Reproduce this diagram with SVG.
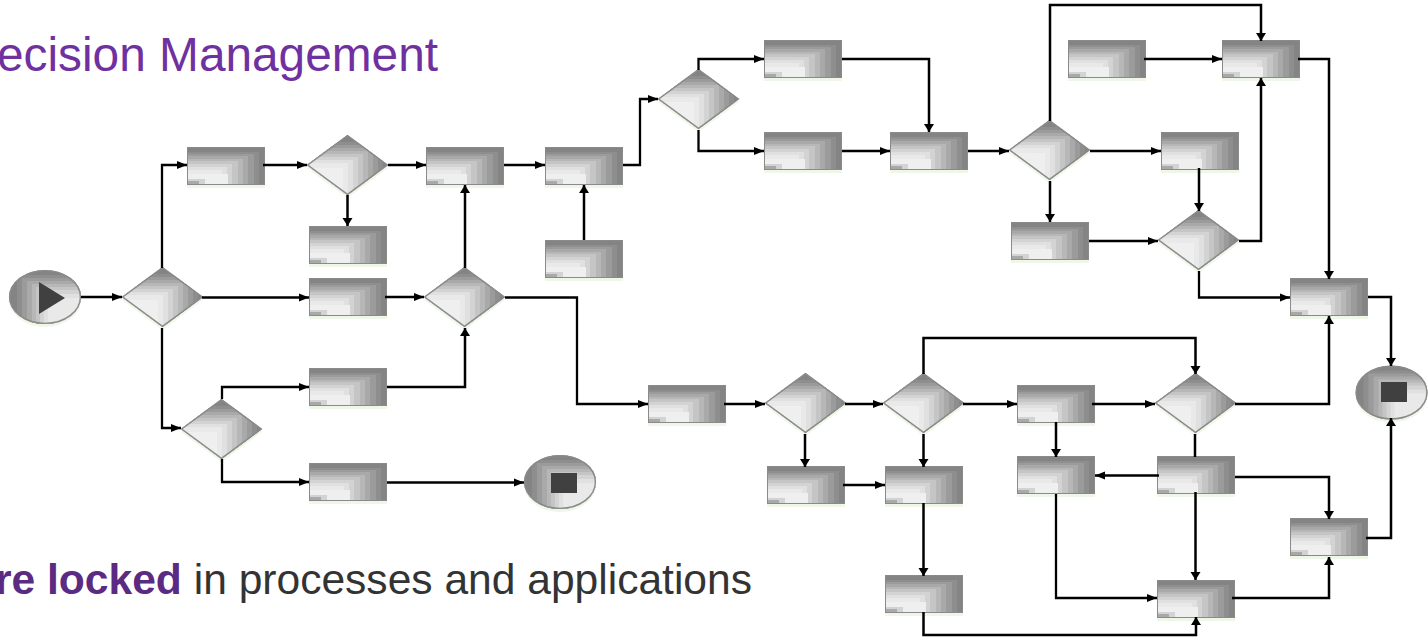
<svg xmlns="http://www.w3.org/2000/svg" width="1428" height="639" viewBox="0 0 1428 639">
<style>
.c{fill:none;stroke:#000;stroke-width:2.3;marker-end:url(#a)}
.v{fill:none;stroke:#000;stroke-width:2.5;marker-end:url(#b)}
.n{fill:none;stroke:#000;stroke-width:2.5}
.t{font-family:"Liberation Sans",Arial,sans-serif}
.s0{fill:#848484}.s1{fill:#8e8e8e}.s2{fill:#9b9b9b}.s3{fill:#a9a9a9}.s4{fill:#b7b7b7}.s5{fill:#c5c5c5}.s6{fill:#d3d3d3}.s7{fill:#e0e0e0}.s8{fill:#e9e9e9}.s9{fill:#efefef}
.sh{fill:#eff8e8}
.ic{fill:#404040}
</style>
<defs>
<marker id="a" markerUnits="userSpaceOnUse" markerWidth="11" markerHeight="10" refX="10" refY="5" orient="auto"><path d="M0 1 L10 5 L0 9 Z" fill="#000"/></marker>
<marker id="b" markerUnits="userSpaceOnUse" markerWidth="9" markerHeight="12" refX="8" refY="6" orient="auto"><path d="M0 1 L8 6 L0 11 Z" fill="#000"/></marker>
<clipPath id="cd"><path d="M0 30 L40.500 0 L81 30 L40.500 60 Z"/></clipPath>
<clipPath id="ce"><ellipse cx="36" cy="27" rx="36" ry="27"/></clipPath>
<g id="box">
<rect x="0" y="3" width="78" height="38" class="sh"/>
<rect width="78" height="38" class="s0"/>
<rect x="1" y="5" width="71" height="32" class="s1"/>
<rect x="1" y="7" width="66" height="30" class="s2"/>
<rect x="1" y="9" width="60" height="28" class="s3"/>
<rect x="1" y="12" width="55" height="25" class="s4"/>
<rect x="1" y="14" width="50" height="23" class="s5"/>
<rect x="1" y="17" width="44" height="20" class="s6"/>
<rect x="1" y="20" width="39" height="17" class="s7"/>
<rect x="1" y="23" width="34" height="14" class="s8"/>
<rect x="1" y="27" width="40" height="10" class="s9"/>
<rect x="1" y="32" width="17" height="5" class="s6"/>
<rect x="1" y="34" width="11" height="3" class="s3"/>
<rect x=".5" y=".5" width="77" height="37" fill="none" stroke="#8a8a8a"/>
</g>
<g id="dia">
<path d="M0 33 L40.500 3 L81 33 L40.500 63 Z" class="sh"/>
<g clip-path="url(#cd)">
<rect width="81" height="60" class="s0"/>
<rect y="7" width="76" height="53" class="s1"/>
<rect y="10" width="71" height="50" class="s2"/>
<rect y="13" width="66" height="47" class="s3"/>
<rect y="16" width="61" height="44" class="s4"/>
<rect y="19" width="56" height="41" class="s5"/>
<rect y="22" width="51" height="38" class="s6"/>
<rect y="25" width="46" height="35" class="s7"/>
<rect y="28" width="41" height="32" class="s8"/>
<rect y="33" width="36" height="27" class="s9"/>
</g>
<path d="M.7 30 L40.500 .7 L80.300 30 L40.500 59.300 Z" fill="none" stroke="#8a8a8a" stroke-width="1.4"/>
</g>
<g id="oval">
<ellipse cx="36" cy="30" rx="36" ry="27" class="sh"/>
<g clip-path="url(#ce)">
<rect width="72" height="54" class="s0"/>
<rect x="8" y="5" width="64" height="49" class="s1"/>
<rect x="13" y="8" width="59" height="46" class="s2"/>
<rect x="18" y="11" width="54" height="43" class="s3"/>
<rect x="23" y="14" width="49" height="40" class="s4"/>
<rect x="27" y="17" width="45" height="37" class="s5"/>
<rect x="31" y="20" width="41" height="34" class="s6"/>
<rect x="35" y="24" width="37" height="30" class="s7"/>
<rect x="39" y="28" width="33" height="26" class="s8"/>
<rect x="63" y="44" width="9" height="10" class="s6"/>
</g>
<ellipse cx="36" cy="27" rx="35.400" ry="26.400" fill="none" stroke="#8a8a8a" stroke-width="1.4"/>
</g>
</defs>
<g id="title"><text class="t" x="-3" y="71" font-size="47.800" fill="#7030a0">ecision Management</text></g>
<g id="caption"><text class="t" x="-5" y="594" font-size="42" fill="#333" textLength="757" lengthAdjust="spacingAndGlyphs"><tspan font-weight="bold" fill="#5b2a82">re locked</tspan> in processes and applications</text></g>
<g id="nodes">
<g id="start"><use href="#oval" x="9" y="270"/><path d="M39 282 L65 298 L39 314 Z" class="ic"/></g>
<g id="stop1"><use href="#oval" x="524" y="455"/><rect x="551" y="473" width="26" height="20" class="ic"/></g>
<g id="stop2"><use href="#oval" x="1355.500" y="365.500"/><rect x="1381" y="382" width="26" height="20" class="ic"/></g>
<g id="d1"><use href="#dia" x="122" y="267"/></g>
<g id="d2"><use href="#dia" x="307" y="135"/></g>
<g id="d3"><use href="#dia" x="424" y="267"/></g>
<g id="d4"><use href="#dia" x="181" y="399"/></g>
<g id="d5"><use href="#dia" x="658" y="69"/></g>
<g id="d6"><use href="#dia" x="1009" y="120"/></g>
<g id="d7"><use href="#dia" x="1158" y="210"/></g>
<g id="d8"><use href="#dia" x="765" y="373"/></g>
<g id="d9"><use href="#dia" x="883" y="373"/></g>
<g id="d10"><use href="#dia" x="1155" y="373"/></g>
<g id="r1"><use href="#box" x="187" y="147"/></g>
<g id="r2"><use href="#box" x="426" y="147"/></g>
<g id="r3"><use href="#box" x="545" y="147"/></g>
<g id="r4"><use href="#box" x="309" y="226"/></g>
<g id="r5"><use href="#box" x="309" y="278"/></g>
<g id="r6"><use href="#box" x="545" y="240"/></g>
<g id="r7"><use href="#box" x="309" y="368"/></g>
<g id="r8"><use href="#box" x="309" y="463"/></g>
<g id="r9"><use href="#box" x="764" y="40"/></g>
<g id="r10"><use href="#box" x="764" y="132"/></g>
<g id="r11"><use href="#box" x="890" y="132"/></g>
<g id="r12"><use href="#box" x="1068" y="40"/></g>
<g id="r13"><use href="#box" x="1222" y="40"/></g>
<g id="r14"><use href="#box" x="1161" y="132"/></g>
<g id="r15"><use href="#box" x="1011" y="222"/></g>
<g id="r16"><use href="#box" x="1290" y="278"/></g>
<g id="r17"><use href="#box" x="648" y="385"/></g>
<g id="r18"><use href="#box" x="767" y="466"/></g>
<g id="r19"><use href="#box" x="885" y="466"/></g>
<g id="r20"><use href="#box" x="885" y="575"/></g>
<g id="r21"><use href="#box" x="1017" y="385"/></g>
<g id="r22"><use href="#box" x="1017" y="456"/></g>
<g id="r23"><use href="#box" x="1157" y="456"/></g>
<g id="r24"><use href="#box" x="1157" y="580"/></g>
<g id="r25"><use href="#box" x="1290" y="518"/></g>
</g>
<g id="connectors">
<path class="c" d="M81 297 H122"/>
<path class="c" d="M162 268 V165 H187"/>
<path class="c" d="M202 297.500 H309"/>
<path class="c" d="M162 328 V428 H181"/>
<path class="c" d="M222 399 V387 H309"/>
<path class="c" d="M222 459 V482 H309"/>
<path class="c" d="M387 482.500 H524"/>
<path class="c" d="M263 165 H307"/>
<path class="c" d="M388 165 H426"/>
<path class="v" d="M347.500 195 V226"/>
<path class="c" d="M385 297 H424"/>
<path class="v" d="M387 387 H465 V328"/>
<path class="v" d="M465 268 V185"/>
<path class="c" d="M504 165 H545"/>
<path class="v" d="M584 240 V185"/>
<path class="c" d="M623 165 H640 V99 H658"/>
<path class="c" d="M505 297.500 H577 V404 H648"/>
<path class="c" d="M698.500 70 V59 H764"/>
<path class="c" d="M698.500 130 V151 H764"/>
<path class="v" d="M842 59 H929 V132"/>
<path class="c" d="M842 151 H890"/>
<path class="c" d="M968 151 H1009"/>
<path class="v" d="M1050 121 V5 H1261 V41"/>
<path class="c" d="M1144 59 H1222"/>
<path class="c" d="M1090 151 H1161"/>
<path class="v" d="M1050 181 V222"/>
<path class="v" d="M1199 168 V211"/>
<path class="c" d="M1089 241 H1158"/>
<path class="v" d="M1239 241 H1261 V78"/>
<path class="v" d="M1298 59 H1329 V279"/>
<path class="c" d="M1199 271 V297.500 H1290"/>
<path class="v" d="M1368 297 H1391 V366"/>
<path class="c" d="M724 404 H765"/>
<path class="c" d="M845 404 H883"/>
<path class="v" d="M805 434 V467"/>
<path class="v" d="M923.500 434 V467"/>
<path class="c" d="M843 485 H885"/>
<path class="v" d="M923.500 503 V576"/>
<path class="v" d="M923.500 374 V338 H1195.500 V374"/>
<path class="c" d="M963 404 H1017"/>
<path class="c" d="M1092 404 H1155"/>
<path class="v" d="M1056 422 V457"/>
<path class="v" d="M1235 404 H1329 V316"/>
<path class="n" d="M1195 434 V457"/>
<path class="c" d="M1159 475.500 H1095"/>
<path class="v" d="M1195.500 492 V580"/>
<path class="v" d="M1235 477 H1329 V519"/>
<path class="c" d="M1056 494 V598 H1157"/>
<path class="v" d="M1232 598 H1329 V557"/>
<path class="v" d="M1366 538 H1391 V418"/>
<path class="v" d="M923.500 612 V635 H1196 V617"/>
</g>
</svg>
